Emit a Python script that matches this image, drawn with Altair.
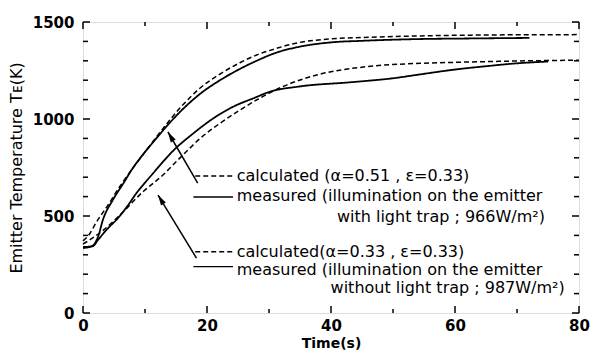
import altair as alt
import pandas as pd

# ---- data ----
t_meas1 = [0, 1.5, 2.5, 3.2, 4.8, 6.5, 8.1, 9.7, 11.3, 12.4, 15.6, 18.9, 22.1, 25.3, 28, 31, 35, 40, 45, 54, 62, 72]
T_meas1 = [335, 345, 400, 479, 582, 668, 750, 818, 880, 922, 1035, 1130, 1200, 1258, 1300, 1340, 1373, 1395, 1403, 1412, 1415, 1418]

t_calc1 = [0, 1, 2.1, 4, 6, 8, 10, 12.4, 15.6, 18.9, 22.1, 25.3, 28, 31, 35, 40, 45, 54, 65, 80]
T_calc1 = [372, 405, 465, 555, 655, 745, 830, 930, 1055, 1160, 1232, 1290, 1330, 1362, 1395, 1413, 1420, 1428, 1433, 1435]

t_meas2 = [0, 1.6, 2.4, 4.0, 5.6, 7.3, 8.6, 9.9, 11.3, 12.9, 14.5, 17.8, 21, 24.2, 27.5, 30.2, 35, 43, 50, 54.4, 60, 65, 70, 75]
T_meas2 = [340, 345, 376, 436, 488, 557, 617, 668, 720, 780, 835, 926, 1003, 1063, 1107, 1141, 1168, 1189, 1210, 1230, 1255, 1272, 1287, 1296]

t_calc2 = [0, 1, 3.2, 6.5, 9.7, 11.3, 12.9, 14.5, 16.1, 18.9, 22.1, 25.3, 28.5, 32.3, 37.7, 45.8, 54.4, 60, 70, 80]
T_calc2 = [355, 375, 425, 522, 626, 668, 711, 763, 814, 900, 978, 1046, 1107, 1168, 1227, 1270, 1287, 1292, 1299, 1303]

x_major = [0, 20, 40, 60, 80]
x_minor = [10, 30, 50, 70]
y_major = [0, 500, 1000, 1500]
y_minor = [100, 200, 300, 400, 600, 700, 800, 900, 1100, 1200, 1300, 1400]

# annotation texts and anchors (data units)
ann_text = ["calculated (\u03b1=0.51 , \u03b5=0.33)",
            "measured (illumination on the emitter",
            "with light trap ; 966W/m\u00b2)",
            "calculated(\u03b1=0.33 , \u03b5=0.33)",
            "measured (illumination on the emitter",
            "without light trap ; 987W/m\u00b2)"]
ann_x = [24.8, 24.8, 74.5, 24.8, 24.8, 77.7]
ann_y = [706, 603, 496, 314, 222, 129]
ann_align = ["left", "left", "right", "left", "left", "right"]

key_x1 = [18.1, 17.8, 18.1, 17.8]
key_x2 = [24.2, 24.2, 24.2, 24.2]
key_y = [706, 598, 316, 239]
key_style = ["calc", "meas", "calc", "meas"]

arrow_x1 = [18.5, 18.3]
arrow_y1 = [670, 283]
arrow_x2 = [13.7, 12.1]
arrow_y2 = [933, 608]
arrow_angle = [329.5, 328.6]

# ---- build tables ----
rows = []
for name, style, ts, Ts in [("meas1", "meas", t_meas1, T_meas1),
                            ("calc1", "calc", t_calc1, T_calc1),
                            ("meas2", "meas", t_meas2, T_meas2),
                            ("calc2", "calc", t_calc2, T_calc2)]:
    for i, (a, b) in enumerate(zip(ts, Ts)):
        rows.append({"series": name, "style": style, "t": a, "T": b, "i": i})
df = pd.DataFrame(rows)

W, H = 496, 291
FONT = "DejaVu Sans"
xs = alt.Scale(domain=[0, 80], nice=False, zero=False)
ys = alt.Scale(domain=[0, 1500], nice=False, zero=False)

dash_scale = alt.Scale(domain=["calc", "meas"], range=[[5, 3], [1, 0]])
width_scale = alt.Scale(domain=["calc", "meas"], range=[1.5, 1.8])

lines = alt.Chart(df).mark_line(color="black", interpolate="monotone").encode(
    x=alt.X("t:Q", scale=xs, axis=alt.Axis(
        values=x_major, format="d", title="Time(s)", ticks=False, domain=False, grid=False,
        labelFont=FONT, labelFontSize=15, labelFontWeight="bold", labelColor="black",
        labelPadding=5, labelFlush=False, labelOverlap=False,
        titleFont=FONT, titleFontSize=14, titleFontWeight="bold", titleColor="black",
        titlePadding=3)),
    y=alt.Y("T:Q", scale=ys, axis=alt.Axis(
        values=y_major, format="d", title="Emitter Temperature T\u1d07(K)", ticks=False, domain=False, grid=False,
        labelFont=FONT, labelFontSize=15, labelFontWeight="bold", labelColor="black",
        labelPadding=9, labelFlush=False, labelOverlap=False,
        titleFont=FONT, titleFontSize=16, titleFontWeight="normal", titleColor="black",
        titlePadding=8)),
    strokeDash=alt.StrokeDash("style:N", scale=dash_scale, legend=None),
    strokeWidth=alt.StrokeWidth("style:N", scale=width_scale, legend=None),
    detail="series:N",
    order="i:Q",
)

layers = [lines]

# inward ticks on all four sides
for vals, ln in [(x_major, 7), (x_minor, 4)]:
    tdf = pd.DataFrame({"v": vals})
    layers.append(alt.Chart(tdf).mark_rule(color="black", strokeWidth=1.5).encode(
        x=alt.X("v:Q", scale=xs), y=alt.value(H), y2=alt.value(H - ln)))
    layers.append(alt.Chart(tdf).mark_rule(color="black", strokeWidth=1.5).encode(
        x=alt.X("v:Q", scale=xs), y=alt.value(0), y2=alt.value(ln)))
for vals, ln in [(y_major, 7), (y_minor, 5)]:
    tdf = pd.DataFrame({"v": vals})
    layers.append(alt.Chart(tdf).mark_rule(color="black", strokeWidth=1.5).encode(
        y=alt.Y("v:Q", scale=ys), x=alt.value(0), x2=alt.value(ln)))
    layers.append(alt.Chart(tdf).mark_rule(color="black", strokeWidth=1.5).encode(
        y=alt.Y("v:Q", scale=ys), x=alt.value(W), x2=alt.value(W - ln)))

# annotation key lines
kdf = pd.DataFrame({"x1": key_x1, "x2": key_x2, "y": key_y, "style": key_style})
layers.append(alt.Chart(kdf).mark_rule(color="black").encode(
    x=alt.X("x1:Q", scale=xs), x2="x2:Q", y=alt.Y("y:Q", scale=ys),
    strokeDash=alt.StrokeDash("style:N", scale=alt.Scale(domain=["calc", "meas"], range=[[4, 2], [1, 0]]), legend=None),
    strokeWidth=alt.value(1.4)))

# arrows
adf = pd.DataFrame({"x1": arrow_x1, "y1": arrow_y1, "x2": arrow_x2, "y2": arrow_y2, "ang": arrow_angle})
layers.append(alt.Chart(adf).mark_rule(color="black", strokeWidth=1.5).encode(
    x=alt.X("x1:Q", scale=xs), y=alt.Y("y1:Q", scale=ys), x2="x2:Q", y2="y2:Q"))
layers.append(alt.Chart(adf).mark_point(
    shape="M0,0L-0.6,2.2L0.6,2.2Z", filled=True, color="black", opacity=1, size=90).encode(
    x=alt.X("x2:Q", scale=xs), y=alt.Y("y2:Q", scale=ys), angle=alt.Angle("ang:Q", scale=None)))

# annotation texts
for align in ["left", "right"]:
    sub = pd.DataFrame({"x": [x for x, a in zip(ann_x, ann_align) if a == align],
                        "y": [y for y, a in zip(ann_y, ann_align) if a == align],
                        "txt": [t for t, a in zip(ann_text, ann_align) if a == align]})
    layers.append(alt.Chart(sub).mark_text(
        align=align, baseline="middle", font=FONT, fontSize=16, color="black").encode(
        x=alt.X("x:Q", scale=xs), y=alt.Y("y:Q", scale=ys), text="txt:N"))

chart = alt.layer(*layers).properties(
    width=W, height=H,
    autosize=alt.AutoSizeParams(type="none"),
    padding={"left": 83, "top": 22, "right": 12, "bottom": 42},
).configure_view(stroke="black", strokeWidth=2).configure(background="white")

chart.save("out.html", embed_options={"renderer": "svg", "actions": False})
